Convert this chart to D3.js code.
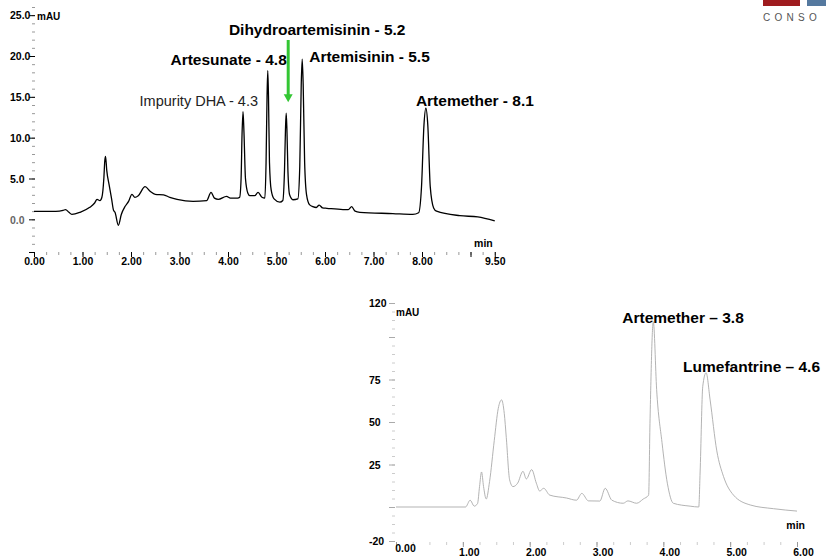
<!DOCTYPE html>
<html>
<head>
<meta charset="utf-8">
<script src="https://cdn.jsdelivr.net/npm/d3@7"></script>
<style>
  body { margin: 0; background: #fff; }
  svg text { font-family: "Liberation Sans", Arial, sans-serif; }
</style>
</head>
<body>
<svg id="chart" width="826" height="558"></svg>
<script>
// chromatogram A: artemisinin derivatives, [min, mAU]
const traceA = [
  [0, 0.98], [0.45, 0.98], [0.6, 1.1], [0.65, 1.2], [0.72, 0.86], [0.78, 0.6], [0.95, 0.86],
  [1.15, 1.47], [1.25, 2.0], [1.3, 2.45], [1.36, 2.3], [1.4, 2.7], [1.44, 5.0], [1.46, 7.2],
  [1.475, 7.7], [1.5, 6.0], [1.55, 4.2], [1.6, 2.5], [1.64, 1.1], [1.67, 0.86], [1.74, -0.73],
  [1.8, 0.6], [1.88, 1.6], [1.95, 2.2], [2.02, 3.06], [2.08, 2.7], [2.15, 2.9], [2.29, 4.0],
  [2.4, 3.4], [2.5, 3.06], [2.67, 3.0], [2.8, 2.7], [2.95, 2.45], [3.28, 2.2], [3.56, 2.3],
  [3.65, 3.3], [3.72, 2.6], [3.8, 2.45], [3.97, 2.8], [4.05, 2.6], [4.2, 2.6], [4.24, 2.7],
  [4.27, 5.0], [4.29, 10.5], [4.31, 13.2], [4.33, 10.5], [4.36, 5.0], [4.41, 3.2], [4.45, 2.9],
  [4.55, 2.9], [4.62, 3.3], [4.7, 2.7], [4.76, 2.6], [4.785, 7.0], [4.805, 15.0], [4.82, 18.2],
  [4.835, 15.0], [4.855, 7.0], [4.89, 3.6], [4.95, 2.5], [5.07, 2.1], [5.13, 2.3], [5.165, 6.0],
  [5.185, 11.0], [5.2, 13.0], [5.215, 11.0], [5.235, 6.0], [5.27, 3.0], [5.34, 2.4], [5.44, 2.5],
  [5.48, 6.5], [5.51, 16.5], [5.53, 19.6], [5.55, 16.5], [5.58, 7.0], [5.62, 3.0], [5.68, 1.8],
  [5.75, 1.55], [5.82, 1.45], [5.88, 1.75], [5.95, 1.4], [6.04, 1.35], [6.37, 1.2], [6.48, 1.2],
  [6.55, 1.55], [6.62, 1.0], [6.72, 0.86], [7.4, 0.7], [7.81, 0.6], [7.93, 0.8], [7.99, 4.0],
  [8.04, 11.5], [8.08, 13.6], [8.12, 11.5], [8.17, 4.0], [8.24, 1.4], [8.3, 1.0], [8.78, 0.45],
  [9.15, 0.3], [9.5, -0.2]
]
const peakNamesA = ['Impurity DHA - 4.3', 'Artesunate - 4.8', 'Dihydroartemisinin - 5.2', 'Artemisinin - 5.5', 'Artemether - 8.1']
const peakTimesA = [4.31, 4.82, 5.2, 5.53, 8.08]
const yLabelsA = [0, 5, 10, 15, 20, 25]
const xLabelsA = [0, 1, 2, 3, 4, 5, 6, 7, 8, 9.5]

// chromatogram B: artemether / lumefantrine
const traceB = [
  [0, 0], [1.04, 0], [1.11, 4], [1.17, 0.5], [1.22, 2], [1.25, 12], [1.28, 20.6], [1.31, 12],
  [1.35, 4.7], [1.4, 15], [1.47, 39], [1.53, 58], [1.58, 63], [1.62, 55], [1.65, 41], [1.7, 16],
  [1.75, 12], [1.82, 14], [1.9, 21], [1.95, 16.5], [2.03, 22], [2.1, 14], [2.15, 9.4], [2.21, 11],
  [2.3, 7], [2.55, 5.3], [2.7, 4], [2.78, 8], [2.88, 3.6], [3.05, 3.5], [3.13, 11], [3.23, 4],
  [3.4, 2.2], [3.47, 3.6], [3.6, 2.2], [3.7, 4.7], [3.78, 7], [3.8, 49], [3.85, 109], [3.9, 69],
  [3.98, 38], [4.06, 14], [4.15, 2.2], [4.4, 0.5], [4.53, 0], [4.55, 20], [4.59, 71], [4.64, 79],
  [4.7, 63], [4.8, 33], [4.9, 18], [5.05, 7], [5.3, 1.2], [5.65, -1], [6.0, -2.4]
]
const peakNamesB = ['Artemether \u2013 3.8', 'Lumefantrine \u2013 4.6']
const peakTimesB = [3.85, 4.64]
const yLabelsB = [120, 75, 50, 25, -20]
const xLabelsB = [0, 1, 2, 3, 4, 5, 6]

const svg = d3.select('#chart')

const xA = d3.scaleLinear().domain([0, 9.5]).range([34, 494.75])
const yA = d3.scaleLinear().domain([-4, 26]).range([252, 7])
const xB = d3.scaleLinear().domain([0, 6]).range([396, 797])
const yB = d3.scaleLinear().domain([-20, 120]).range([541, 303])

function styleAxis(g, color) {
  g.select('.domain').remove()
  g.selectAll('line').attr('stroke', color)
  g.attr('font-family', null).attr('font-size', null)
}

// ---------- chart A ----------
// minor ticks
svg.append('g')
  .attr('transform', 'translate(35,0)')
  .call(d3.axisLeft(yA).tickValues(d3.range(-4, 27, 1)).tickSize(3).tickFormat(''))
  .call(g => styleAxis(g, '#999'))
svg.append('g')
  .attr('transform', 'translate(35,0)')
  .call(d3.axisLeft(yA).tickValues([-4, 0, 5, 10, 15, 20, 25]).tickSize(6).tickFormat(d3.format('.1f')))
  .call(g => styleAxis(g, '#000'))
  .call(g => g.selectAll('text')
    .attr('x', -25).attr('dy', '0.35em')
    .attr('text-anchor', 'start')
    .style('font-size', '10.5px').style('font-weight', 'bold')
    .attr('fill', d => d === 0 ? '#666' : '#000')
    .text(d => yLabelsA.includes(d) ? d3.format('.1f')(d) : ''))

svg.append('g')
  .attr('transform', 'translate(0,252)')
  .call(d3.axisBottom(xA).tickValues(d3.range(0, 9.51, 0.25)).tickSize(3).tickFormat(''))
  .call(g => styleAxis(g, '#999'))
svg.append('g')
  .attr('transform', 'translate(0,252)')
  .call(d3.axisBottom(xA).tickValues([0, 1, 2, 3, 4, 5, 6, 7, 8, 9, 9.5]).tickSize(5))
  .call(g => styleAxis(g, '#000'))
  .call(g => g.selectAll('text')
    .attr('y', 13).attr('dy', 0)
    .style('font-size', '10.5px').style('font-weight', 'bold')
    .attr('fill', '#000')
    .text(d => xLabelsA.includes(d) ? d3.format('.2f')(d) : ''))

svg.append('text').attr('x', xA(0) + 3).attr('y', yA(24.4))
  .style('font-size', '10px').style('font-weight', 'bold').text('mAU')
svg.append('text').attr('x', xA(9.5) - 2).attr('y', yA(-3.4)).attr('text-anchor', 'end')
  .style('font-size', '10.5px').style('font-weight', 'bold').text('min')

const lineA = d3.line().x(d => xA(d[0])).y(d => yA(d[1])).curve(d3.curveMonotoneX)
svg.append('path').datum(traceA)
  .attr('d', lineA).attr('fill', 'none').attr('stroke', '#000').attr('stroke-width', 1.3)

// labels relative to the peak apex
const apexA = peakTimesA.map(t => traceA.find(p => p[0] === t))
const layoutA = [
  { anchor: 'end', dx: 15, dy: -6, bold: false, size: 14.5 },
  { anchor: 'end', dx: 19, dy: -6, bold: true, size: 15.5 },
  { anchor: 'middle', dx: 31, dy: -78, bold: true, size: 15.5 },
  { anchor: 'start', dx: 7, dy: 3, bold: true, size: 15.5 },
  { anchor: 'start', dx: -10, dy: -2, bold: true, size: 15.5 }
]
svg.append('g').selectAll('text')
  .data(peakNamesA)
  .join('text')
  .attr('x', (d, i) => xA(apexA[i][0]) + layoutA[i].dx)
  .attr('y', (d, i) => yA(apexA[i][1]) + layoutA[i].dy)
  .attr('text-anchor', (d, i) => layoutA[i].anchor)
  .style('font-size', (d, i) => layoutA[i].size + 'px')
  .style('font-weight', (d, i) => layoutA[i].bold ? 'bold' : 'normal')
  .attr('fill', (d, i) => layoutA[i].bold ? '#000' : '#222')
  .text(d => d)

// green arrow onto the DHA peak
const ax = xA(apexA[2][0]) + 2
const tipY = yA(apexA[2][1]) - 11
svg.append('line').attr('x1', ax).attr('x2', ax).attr('y1', 40).attr('y2', tipY - 6)
  .attr('stroke', '#33c633').attr('stroke-width', 3)
svg.append('path')
  .attr('d', `M${ax - 4.5},${tipY - 8}L${ax + 4.5},${tipY - 8}L${ax},${tipY}Z`)
  .attr('fill', '#33c633')

// ---------- chart B ----------
svg.append('g')
  .attr('transform', 'translate(395,0)')
  .call(d3.axisLeft(yB).tickValues(d3.range(-20, 121, 5)).tickSize(3).tickFormat(''))
  .call(g => styleAxis(g, '#ccc'))
svg.append('g')
  .attr('transform', 'translate(395,0)')
  .call(d3.axisLeft(yB).tickValues([-20, 0, 25, 50, 75, 100, 120]).tickSize(6))
  .call(g => styleAxis(g, '#aaa'))
  .call(g => g.selectAll('text')
    .attr('x', -26).attr('dy', '0.35em')
    .attr('text-anchor', 'start')
    .style('font-size', '10.5px').style('font-weight', 'bold')
    .attr('fill', '#000')
    .text(d => yLabelsB.includes(d) ? d : ''))

svg.append('g')
  .attr('transform', 'translate(0,542)')
  .call(d3.axisBottom(xB).tickValues(d3.range(0, 6.01, 0.25)).tickSize(3).tickFormat(''))
  .call(g => styleAxis(g, '#ccc'))
svg.append('g')
  .attr('transform', 'translate(0,542)')
  .call(d3.axisBottom(xB).tickValues(xLabelsB).tickSize(5))
  .call(g => styleAxis(g, '#999'))
  .call(g => g.selectAll('text')
    .attr('y', d => d === 0 ? 10 : 14).attr('dy', 0)
    .attr('dx', d => d === 0 ? 9 : 6)
    .style('font-size', '10.5px').style('font-weight', 'bold')
    .attr('fill', '#000')
    .text(d => d3.format('.2f')(d)))

svg.append('text').attr('x', xB(0)).attr('y', yB(112.5))
  .style('font-size', '10px').style('font-weight', 'bold').text('mAU')
svg.append('text').attr('x', xB(6) + 8).attr('y', yB(-13)).attr('text-anchor', 'end')
  .style('font-size', '10.5px').style('font-weight', 'bold').text('min')

const lineB = d3.line().x(d => xB(d[0])).y(d => yB(d[1])).curve(d3.curveMonotoneX)
svg.append('path').datum(traceB)
  .attr('d', lineB).attr('fill', 'none').attr('stroke', '#aaa').attr('stroke-width', 0.9)

const apexB = peakTimesB.map(t => traceB.find(p => p[0] === t))
const layoutB = [{ dx: -31, dy: 1 }, { dx: -23, dy: -1 }]
svg.append('g').selectAll('text')
  .data(peakNamesB)
  .join('text')
  .attr('x', (d, i) => xB(apexB[i][0]) + layoutB[i].dx)
  .attr('y', (d, i) => yB(apexB[i][1]) + layoutB[i].dy)
  .style('font-size', '15.5px').style('font-weight', 'bold')
  .text(d => d)

// logo fragment top right
svg.append('rect').attr('x', 763).attr('y', 0).attr('width', 37).attr('height', 6).attr('fill', '#9f1c1f')
svg.append('rect').attr('x', 807).attr('y', 0).attr('width', 19).attr('height', 6).attr('fill', '#55799f')
svg.append('text').attr('x', 763).attr('y', 21)
  .style('font-size', '10px').style('letter-spacing', '4.3px').attr('fill', '#555')
  .text('CONSO')
</script>
</body>
</html>
